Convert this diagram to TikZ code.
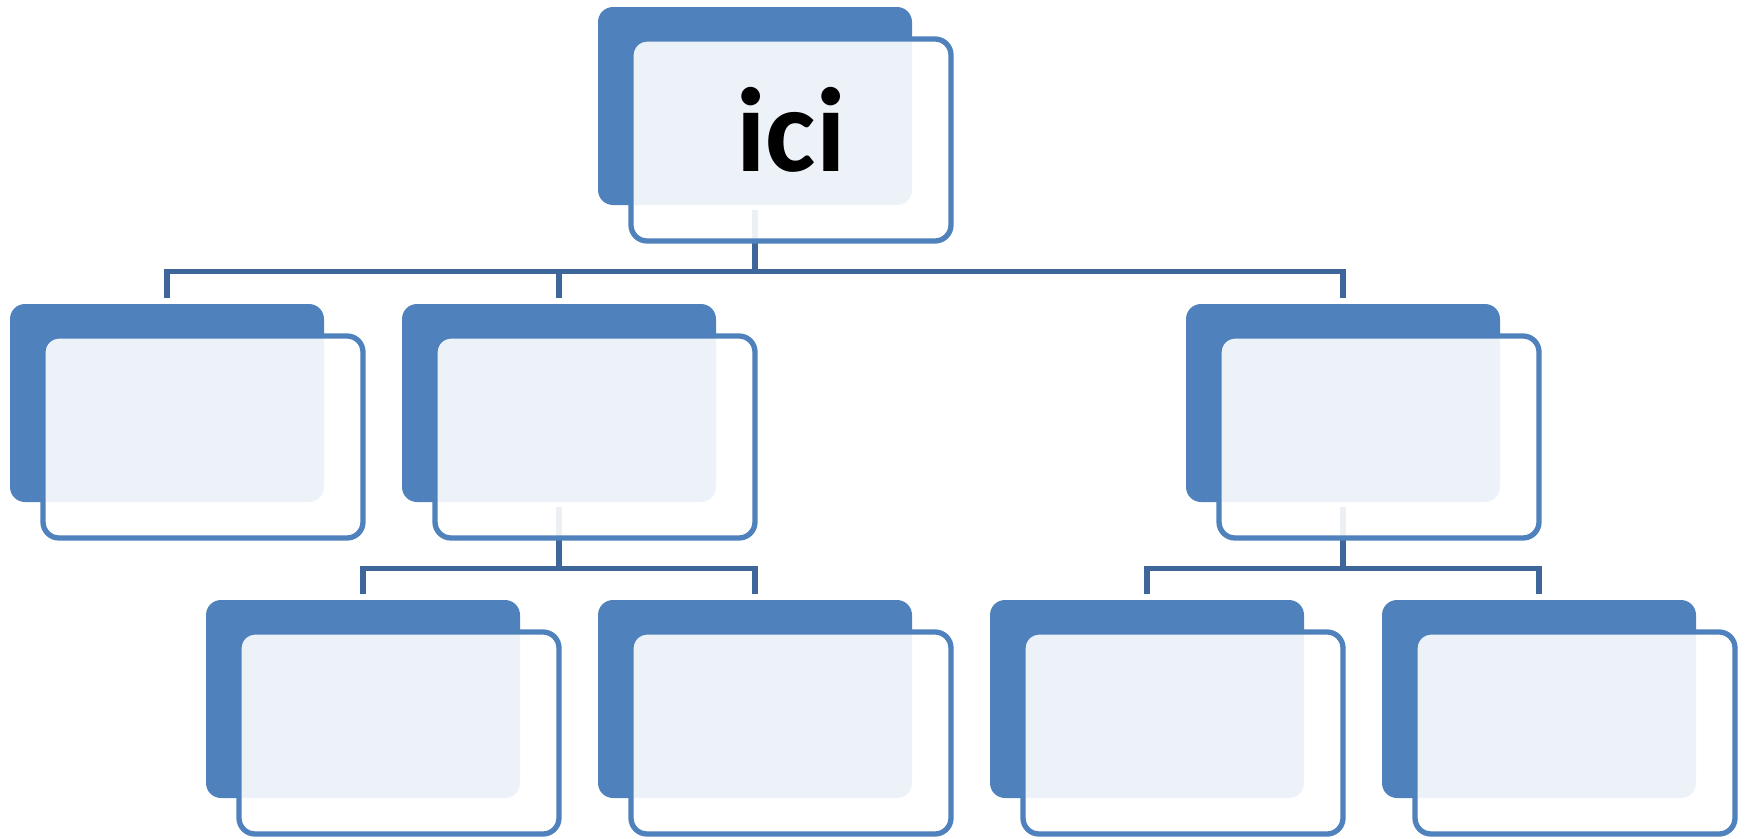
\documentclass[tikz,border=0pt]{standalone}
\usepackage{fontspec}
\newfontfamily\calib{Carlito}
\pgfdeclarelayer{background}
\pgfsetlayers{background,main}
\definecolor{accent}{RGB}{79,129,189}
\definecolor{connc}{RGB}{62,102,154}
\tikzset{
 backbox/.style={fill=accent, rounded corners=15pt, minimum width=314pt, minimum height=198pt, inner sep=0pt, outer sep=0pt},
 frontbox/.style={draw=accent, line width=5.3pt, fill=white, fill opacity=0.9, draw opacity=1, rounded corners=16pt, minimum width=320pt, minimum height=202pt, inner sep=0pt, outer sep=0pt},
 conn/.style={draw=connc, line width=5.5pt, line join=miter},
 lbl/.style={font=\calib\bfseries\fontsize{120}{122}\selectfont, anchor=base, inner sep=0pt}
}
\begin{document}
\begin{tikzpicture}[x=1pt,y=-1pt]
\useasboundingbox (0,0) rectangle (1748,838);
% back boxes
\node[backbox] (b0) at (755,106) {};
\node[backbox] (b1) at (167,403) {};
\node[backbox] (b2) at (559,403) {};
\node[backbox] (b3) at (1343,403) {};
\node[backbox] (b4) at (363,699) {};
\node[backbox] (b5) at (755,699) {};
\node[backbox] (b6) at (1147,699) {};
\node[backbox] (b7) at (1539,699) {};
% front boxes
\node[frontbox] (f0) at (791,140) {};
\node[frontbox] (f1) at (203,437) {};
\node[frontbox] (f2) at (595,437) {};
\node[frontbox] (f3) at (1379,437) {};
\node[frontbox] (f4) at (399,733) {};
\node[frontbox] (f5) at (791,733) {};
\node[frontbox] (f6) at (1183,733) {};
\node[frontbox] (f7) at (1575,733) {};
\node[lbl] (t0) at ([yshift=-31pt]f0.center) {ici};
% connectors
\begin{pgfonlayer}{background}
\foreach \p/\c in {b0/b1, b0/b2, b0/b3, b2/b4, b2/b5, b3/b6, b3/b7}{
  \draw[conn] ([yshift=-5pt]\p.south) -- ++(0,61.5) -| ([yshift=6pt]\c.north);
}
\end{pgfonlayer}
\end{tikzpicture}
\end{document}
